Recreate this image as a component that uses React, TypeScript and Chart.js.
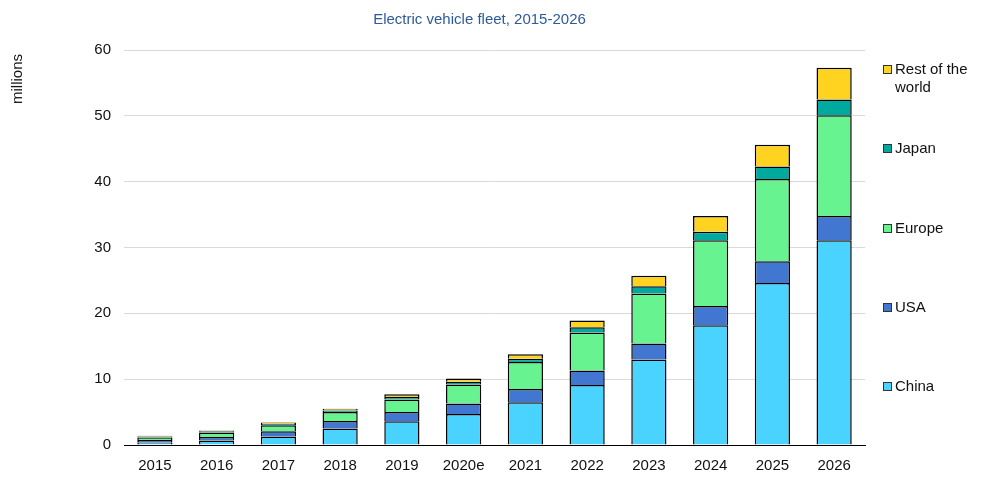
import React, { useEffect, useRef } from "react";
import { Chart, registerables } from "chart.js";

Chart.register(...registerables);

const categories = ["2015", "2016", "2017", "2018", "2019", "2020e", "2021", "2022", "2023", "2024", "2025", "2026"];
const china = [0.35, 0.7, 1.3, 2.5, 3.6, 4.7, 6.5, 9.1, 13.0, 18.2, 24.6, 31.1];
const usa = [0.4, 0.5, 0.8, 1.15, 1.4, 1.6, 2.0, 2.2, 2.4, 2.9, 3.3, 3.7];
const europe = [0.4, 0.7, 0.9, 1.35, 1.9, 2.9, 4.1, 5.8, 7.6, 10.0, 12.5, 15.3];
const japan = [0.15, 0.2, 0.2, 0.25, 0.4, 0.4, 0.5, 0.8, 1.1, 1.3, 1.9, 2.4];
const restOfWorld = [0.1, 0.1, 0.2, 0.25, 0.4, 0.5, 0.7, 1.0, 1.6, 2.4, 3.3, 4.8];
const seriesNames = ["China", "USA", "Europe", "Japan", "Rest of the world"];
const seriesColors = ["#4AD3FF", "#4277D1", "#67F38F", "#00A99D", "#FFD320"];
const yTicks = [0, 10, 20, 30, 40, 50, 60];

const FONT = "'Liberation Sans', Arial, Helvetica, sans-serif";

export default function App() {
  const ref = useRef<HTMLCanvasElement | null>(null);

  useEffect(() => {
    if (!ref.current) return;
    const values = [china, usa, europe, japan, restOfWorld];
    const chart = new Chart(ref.current, {
      type: "bar",
      data: {
        labels: categories,
        datasets: values.map((v, i) => ({
          label: seriesNames[i],
          data: v,
          backgroundColor: seriesColors[i],
          borderColor: "#000",
          borderWidth: 1.5,
          borderSkipped: "start",
          barPercentage: 0.57,
          categoryPercentage: 1,
          stack: "fleet",
        })),
      },
      options: {
        animation: false,
        responsive: false,
        maintainAspectRatio: false,
        layout: { padding: { left: 94, right: 117, top: 0, bottom: 0 } },
        plugins: {
          legend: { display: false },
          tooltip: { enabled: false },
          title: {
            display: true,
            text: "Electric vehicle fleet, 2015-2026",
            color: "#2E5A9A",
            font: { family: FONT, size: 15, weight: "normal" },
            padding: { top: 11, bottom: 21 },
          },
        },
        scales: {
          x: {
            stacked: true,
            grid: { display: false, drawTicks: false },
            border: { display: true, color: "#000", width: 1 },
            ticks: { color: "#111", font: { family: FONT, size: 15 }, padding: 12, maxRotation: 0 },
            afterFit: (axis: any) => {
              axis.height = 35;
            },
          },
          y: {
            stacked: true,
            min: yTicks[0],
            max: yTicks[yTicks.length - 1],
            afterBuildTicks: (axis: any) => {
              axis.ticks = yTicks.map((v) => ({ value: v }));
            },
            afterFit: (axis: any) => {
              axis.width = 30;
            },
            grid: { color: "#d9d9d9", lineWidth: 1, drawTicks: false },
            border: { display: false },
            ticks: { color: "#111", font: { family: FONT, size: 15 }, padding: 13 },
          },
        },
      },
    });
    return () => chart.destroy();
  }, []);

  const legendRows = [
    { i: 4, top: 60, lines: ["Rest of the", "world"] },
    { i: 3, top: 139, lines: ["Japan"] },
    { i: 2, top: 219, lines: ["Europe"] },
    { i: 1, top: 298, lines: ["USA"] },
    { i: 0, top: 377, lines: ["China"] },
  ];

  return (
    <div style={{ position: "fixed", left: 0, top: 0, width: 982, height: 480, background: "#fff", fontFamily: FONT }}>
      <canvas ref={ref} width={982} height={480} style={{ position: "absolute", left: 0, top: 0, width: 982, height: 480 }} />
      <div
        style={{
          position: "absolute",
          left: 17,
          top: 79,
          transform: "translate(-50%, -50%) rotate(-90deg)",
          fontSize: 15,
          color: "#111",
          whiteSpace: "nowrap",
          lineHeight: "18px",
        }}
      >
        millions
      </div>
      {legendRows.map((r) => (
        <div key={r.i} style={{ position: "absolute", left: 883, top: r.top, fontSize: 15, lineHeight: "18px", color: "#111" }}>
          <span
            style={{
              position: "absolute",
              left: 0,
              top: 5,
              width: 7,
              height: 7,
              background: seriesColors[r.i],
              border: "1px solid #333",
            }}
          />
          <div style={{ marginLeft: 12 }}>
            {r.lines.map((l, k) => (
              <div key={k}>{l}</div>
            ))}
          </div>
        </div>
      ))}
    </div>
  );
}
